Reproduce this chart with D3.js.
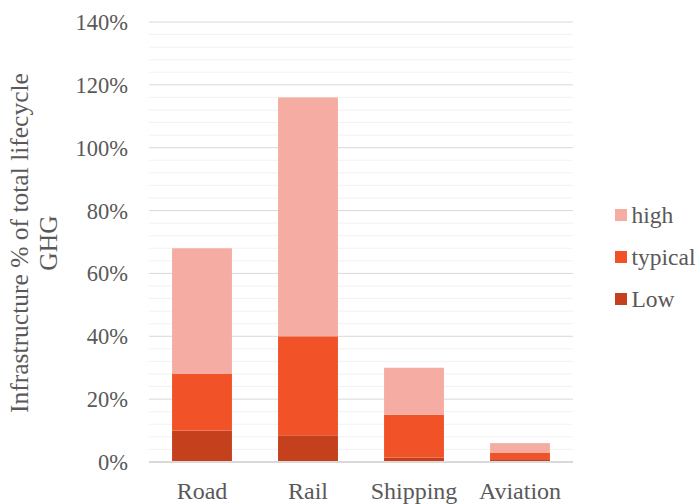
<!DOCTYPE html>
<html>
<head>
<meta charset="utf-8">
<script src="https://cdn.jsdelivr.net/npm/d3@7"></script>
</head>
<body style="margin:0;background:#fff">
<svg id="chart" width="696" height="504" style="display:block" font-family="Liberation Serif"></svg>
<script>
// Infrastructure share of lifecycle GHG, by transport mode (stacked ranges)
const categories = ["Road", "Rail", "Shipping", "Aviation"];
// Cumulative tops for each band (percent)
const lowValues = [10, 8.5, 1.4, 0.9];
const typicalTop = [28, 40, 15, 3];
const highTop = [68, 116, 30, 6];
const yTicks = [0, 20, 40, 60, 80, 100, 120, 140];
const colors = { Low: "#C5411D", typical: "#F15227", high: "#F5ADA3" };
const FONT = "Liberation Serif";

const svg = d3.select("#chart");
const margin = { left: 149, right: 123, top: 22, bottom: 42 };
const W = 696, H = 504;

const x = d3.scaleBand().domain(categories)
  .range([margin.left, W - margin.right])
  .paddingInner(0.435).paddingOuter(0.2175);
const y = d3.scaleLinear().domain([0, 140]).range([H - margin.bottom, margin.top]);

// minor gridlines every 4%
const minor = d3.range(4, 140, 4).filter(v => v % 20 !== 0);
svg.append("g").selectAll("line").data(minor).join("line")
  .attr("x1", margin.left).attr("x2", W - margin.right)
  .attr("y1", d => y(d)).attr("y2", d => y(d))
  .attr("stroke", "#f2f2f2").attr("stroke-width", 1);

// major gridlines
svg.append("g").selectAll("line").data(yTicks).join("line")
  .attr("x1", margin.left).attr("x2", W - margin.right)
  .attr("y1", d => y(d)).attr("y2", d => y(d))
  .attr("stroke", "#d9d9d9").attr("stroke-width", 1);

// stacked segments
const rows = categories.map((c, i) => ({
  cat: c,
  segs: [
    { name: "Low", y0: 0, y1: lowValues[i] },
    { name: "typical", y0: lowValues[i], y1: typicalTop[i] },
    { name: "high", y0: typicalTop[i], y1: highTop[i] }
  ]
}));

const g = svg.append("g");
rows.forEach(r => {
  g.selectAll(null).data(r.segs).join("rect")
    .attr("x", x(r.cat))
    .attr("width", x.bandwidth())
    .attr("y", d => y(d.y1))
    .attr("height", d => y(d.y0) - y(d.y1))
    .attr("fill", d => colors[d.name]);
});

// baseline
svg.append("line")
  .attr("x1", margin.left).attr("x2", W - margin.right)
  .attr("y1", y(0)).attr("y2", y(0))
  .attr("stroke", "#d9d9d9").attr("stroke-width", 2);

// y tick labels
svg.append("g").selectAll("text").data(yTicks).join("text")
  .attr("x", 128).attr("y", d => y(d) + 8)
  .attr("text-anchor", "end")
  .attr("font-family", FONT)
  .attr("font-size", 22.5).attr("fill", "#595959")
  .text(d => d + "%");

// category labels
svg.append("g").selectAll("text").data(categories).join("text")
  .attr("x", d => x(d) + x.bandwidth() / 2).attr("y", 499)
  .attr("text-anchor", "middle")
  .attr("font-family", FONT)
  .attr("font-size", 24).attr("fill", "#595959")
  .text(d => d);

// y axis title
const yt = svg.append("text")
  .attr("transform", "translate(0,243) rotate(-90)")
  .attr("text-anchor", "middle")
  .attr("font-family", FONT)
  .attr("font-size", 25.5).attr("fill", "#595959");
yt.append("tspan").attr("x", 0).attr("y", 28).text("Infrastructure % of total lifecycle");
yt.append("tspan").attr("x", 0).attr("y", 57).text("GHG");

// legend
const legendOrder = ["high", "typical", "Low"];
const lg = svg.append("g").selectAll("g").data(legendOrder).join("g")
  .attr("transform", (d, i) => `translate(615,${209 + i * 42})`);
lg.append("rect").attr("width", 12).attr("height", 12).attr("fill", d => colors[d]);
lg.append("text").attr("x", 16.5).attr("y", 13.5)
  .attr("font-family", FONT)
  .attr("font-size", 23.5).attr("fill", "#595959")
  .text(d => d);
</script>
</body>
</html>
